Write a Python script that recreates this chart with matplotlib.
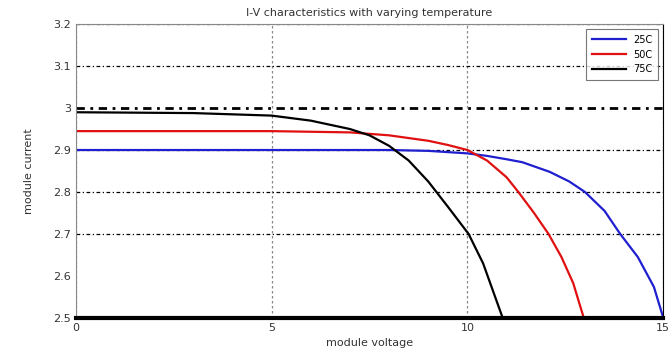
import matplotlib.pyplot as plt
import numpy as np

# I-V curves
v_25 = [0, 5, 8, 9, 10, 10.5, 11, 11.4, 12.1, 12.6, 13.0, 13.5, 13.9, 14.35, 14.76, 15.0]
i_25 = [2.9, 2.9, 2.9, 2.898, 2.892, 2.886, 2.878, 2.871, 2.848, 2.825, 2.8, 2.755, 2.7, 2.645, 2.574, 2.5]

v_50 = [0, 5, 7, 8, 9, 9.5, 10, 10.5, 11, 11.3, 11.7, 12.07, 12.4, 12.7, 12.97]
i_50 = [2.945, 2.945, 2.942, 2.935, 2.922, 2.912, 2.9, 2.875, 2.835, 2.8, 2.75, 2.7, 2.645, 2.583, 2.5]

v_75 = [0, 3, 5, 6, 7, 7.5, 8, 8.5, 9.0, 9.5, 10.03, 10.4, 10.9]
i_75 = [2.99, 2.988, 2.982, 2.97, 2.95, 2.935, 2.91, 2.875, 2.825, 2.765, 2.70, 2.63, 2.50]

labels = ['25C', '50C', '75C']
colors = ['#1f1fd0', '#e01010', 'black']

x_ticks = [0, 5, 10, 15]
y_ticks = [2.5, 2.6, 2.7, 2.8, 2.9, 3.0, 3.1, 3.2]
y_ticklabels = ['2.5', '2.6', '2.7', '2.8', '2.9', '3', '3.1', '3.2']

fig = plt.figure(figsize=(6.7, 3.49), dpi=100)
ax = fig.add_axes([0.113, 0.089, 0.877, 0.842])

for v, cur, lab, c in zip([v_25, v_50, v_75], [i_25, i_50, i_75], labels, colors):
    ax.plot(v, cur, color=c, lw=1.6, label=lab)

ax.set_xlim(0, 15)
ax.set_ylim(2.5, 3.2)
ax.set_xticks(x_ticks)
ax.set_yticks(y_ticks)
ax.set_yticklabels(y_ticklabels)
ax.tick_params(labelsize=8, length=0, colors='#333333')

ax.yaxis.grid(True, color='black', linestyle=(0, (3, 2, 1, 2)), lw=0.9)
ax.xaxis.grid(True, color='#888888', linestyle=(0, (2, 2)), lw=0.9)
for gl, t in zip(ax.get_ygridlines(), y_ticks):
    if abs(t - 3.0) < 1e-9:
        gl.set_linewidth(2)
    if abs(t - 2.6) < 1e-9:
        gl.set_visible(False)
ax.set_axisbelow(True)

for s in ['top', 'left']:
    ax.spines[s].set_color('#888888')
ax.spines['right'].set_color('black')
ax.spines['bottom'].set_color('black')
ax.spines['bottom'].set_linewidth(3)

ax.set_title('I-V characteristics with varying temperature', fontsize=8, color='#333333')
ax.set_xlabel('module voltage', fontsize=8, color='#333333', labelpad=4)
ax.set_ylabel('module current', fontsize=8, color='#333333', labelpad=14)

leg = ax.legend(loc='upper right', fontsize=7, frameon=True, fancybox=False,
                edgecolor='#555555', handlelength=3.5, borderpad=0.6)
leg.get_frame().set_linewidth(0.8)

fig.savefig('out.png', dpi=100)
